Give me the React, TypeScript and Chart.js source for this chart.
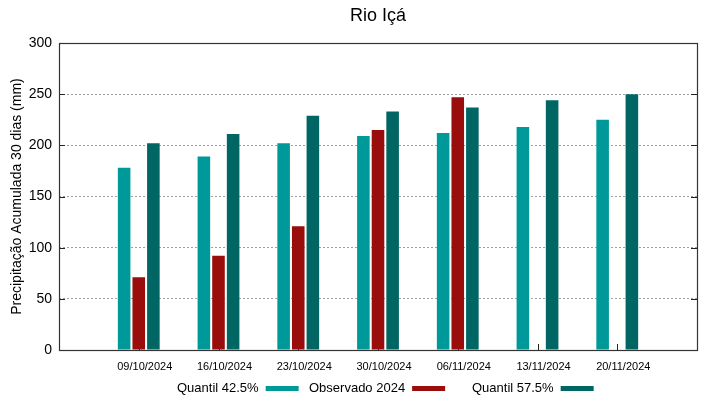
import React, { useEffect, useRef } from "react";
import { Chart, registerables } from "chart.js";

Chart.register(...registerables);

const chartTitle = "Rio Içá";
const yAxisTitle = "Precipitação Acumulada 30 dias (mm)";
const categories = ["09/10/2024", "16/10/2024", "23/10/2024", "30/10/2024", "06/11/2024", "13/11/2024", "20/11/2024"];
const quantil425 = [178, 189, 202, 209, 212, 218, 225];
const observado2024 = [71, 92, 121, 215, 247, null, null];
const quantil575 = [202, 211, 229, 233, 237, 244, 250];
const seriesNames = ["Quantil 42.5%", "Observado 2024", "Quantil 57.5%"];
const seriesColors = ["#009999", "#990d0d", "#006664"];

const FONT = "'Liberation Sans', Arial, sans-serif";

// gnuplot-like histogram: empty slot at each side
const labels = ["", ...categories, ""];
const pad = (arr: (number | null)[]) => [null, ...arr, null];

const framePlugin = {
  id: "gnuframe",
  beforeDatasetsDraw(chart: any) {
    const { ctx, chartArea: a, scales } = chart;
    ctx.save();
    ctx.strokeStyle = "#222";
    ctx.lineWidth = 1;
    const xs = scales.x;
    for (let i = 1; i <= categories.length; i++) {
      const px = Math.round(xs.getPixelForValue(i)) + 0.5;
      ctx.beginPath();
      ctx.moveTo(px, a.bottom);
      ctx.lineTo(px, a.bottom - 6);
      ctx.stroke();
    }
    const ys = scales.y;
    for (let v = 0; v <= 300; v += 50) {
      const py = Math.round(ys.getPixelForValue(v)) + 0.5;
      ctx.beginPath();
      ctx.moveTo(a.left, py);
      ctx.lineTo(a.left + 6, py);
      ctx.moveTo(a.right, py);
      ctx.lineTo(a.right - 6, py);
      ctx.stroke();
    }
    ctx.restore();
  },
  afterDraw(chart: any) {
    const { ctx, chartArea: a } = chart;
    ctx.save();
    ctx.strokeStyle = "#333";
    ctx.lineWidth = 1.2;
    ctx.strokeRect(a.left + 0.5, a.top + 0.5, a.right - a.left, a.bottom - a.top);
    ctx.fillStyle = "#000";
    ctx.font = `18px ${FONT}`;
    ctx.textAlign = "center";
    ctx.textBaseline = "middle";
    ctx.fillText(chartTitle, (a.left + a.right) / 2, 16);
    ctx.font = `13px ${FONT}`;
    ctx.textAlign = "left";
    const starts = [177, 309, 472];
    chart.data.datasets.forEach((ds: any, i: number) => {
      const x = starts[i];
      const w = ctx.measureText(ds.label).width;
      ctx.fillStyle = "#000";
      ctx.fillText(ds.label, x, 388);
      ctx.fillStyle = ds.backgroundColor;
      ctx.fillRect(x + w + 7, 386, 33, 5);
    });
    ctx.restore();
  },
};

export default function App() {
  const ref = useRef<HTMLCanvasElement>(null);
  useEffect(() => {
    document.body.style.margin = "0";
    const chart = new Chart(ref.current as HTMLCanvasElement, {
      type: "bar",
      data: {
        labels,
        datasets: [
          { label: seriesNames[0], data: pad(quantil425), backgroundColor: seriesColors[0] },
          { label: seriesNames[1], data: pad(observado2024), backgroundColor: seriesColors[1] },
          { label: seriesNames[2], data: pad(quantil575), backgroundColor: seriesColors[2] },
        ],
      } as any,
      options: {
        animation: false,
        responsive: false,
        events: [],
        layout: { padding: { left: 0, right: 22, top: 43, bottom: 0 } },
        datasets: { bar: { categoryPercentage: 0.55, barPercentage: 0.86 } },
        plugins: {
          legend: { display: false },
          title: { display: false },
          tooltip: { enabled: false },
        },
        scales: {
          x: {
            type: "category",
            offset: false,
            grid: { display: false, drawTicks: false },
            border: { display: false },
            ticks: {
              color: "#000",
              font: { family: FONT, size: 11 },
              padding: 10,
              labelOffset: 6,
              autoSkip: false,
              maxRotation: 0,
            },
            afterFit: (s: any) => {
              s.height = 49;
            },
          },
          y: {
            min: 0,
            max: 300,
            ticks: {
              stepSize: 50,
              color: "#000",
              font: { family: FONT, size: 14 },
              padding: 7,
            },
            grid: {
              color: "#a0a0a0",
              lineWidth: 1,
              drawTicks: false,
            },
            border: { display: false, dash: [2, 2] },
            title: {
              display: true,
              text: yAxisTitle,
              color: "#000",
              font: { family: FONT, size: 14 },
              padding: { top: 9, bottom: 0 },
            },
            afterFit: (s: any) => {
              s.width = 59;
            },
          },
        },
      } as any,
      plugins: [framePlugin],
    });
    return () => chart.destroy();
  }, []);
  return (
    <div style={{ width: 719, height: 399 }}>
      <canvas ref={ref} width={719} height={399} style={{ display: "block" }} />
    </div>
  );
}
